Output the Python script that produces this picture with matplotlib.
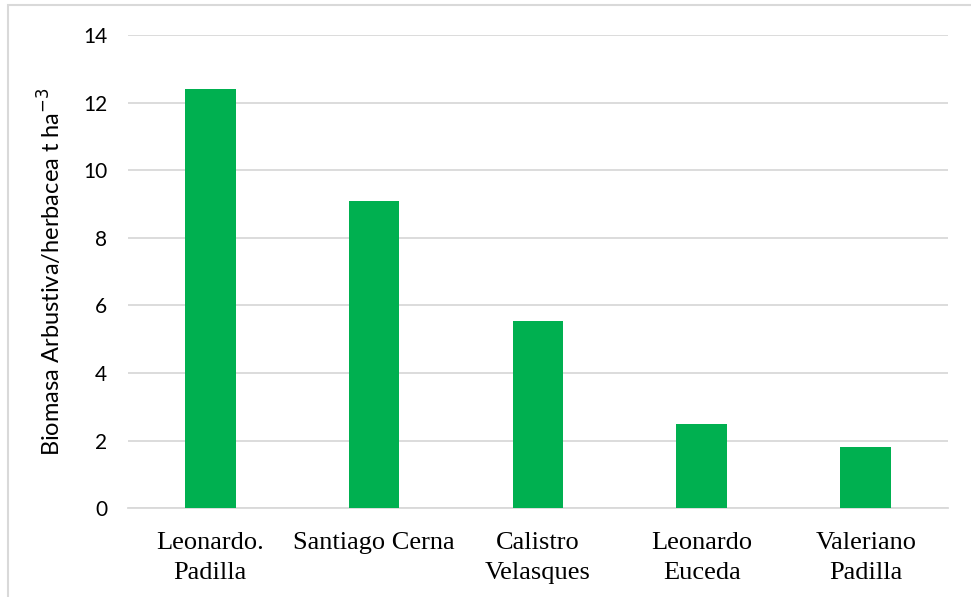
import matplotlib.pyplot as plt
from matplotlib.patches import Rectangle

# Biomasa por productor
productores = ["Leonardo.\nPadilla", "Santiago Cerna", "Calistro\nVelasques",
               "Leonardo\nEuceda", "Valeriano\nPadilla"]
biomasa = [12.4, 9.08, 5.53, 2.48, 1.8]
yticks = [0, 2, 4, 6, 8, 10, 12, 14]

fig = plt.figure(figsize=(9.71, 5.97), dpi=100)
ax = fig.add_axes([0.132, 0.149, 0.844, 0.792])

x = range(len(productores))
ax.bar(x, biomasa, width=0.31, color="#00B050", zorder=3)

ax.set_xlim(-0.5, len(productores) - 0.5)
ax.set_ylim(0, 14)
ax.set_yticks(yticks)
ax.set_yticklabels([str(t) for t in yticks], fontfamily="Lato", fontsize=15)
ax.set_xticks(list(x))
ax.set_xticklabels(productores, fontfamily="Liberation Serif", fontsize=19,
                   linespacing=1.5)
ax.tick_params(length=0, pad=17)
ax.tick_params(axis="y", pad=15)

ax.grid(axis="y", color="#d9d9d9", linewidth=1.3, zorder=0)
for s in ["top", "right", "left"]:
    ax.spines[s].set_visible(False)
ax.spines["bottom"].set_color("#d9d9d9")
ax.spines["bottom"].set_linewidth(1.3)

ax.set_ylabel("Biomasa Arbustiva/herbacea t ha$^{-3}$", fontfamily="Lato",
              fontsize=17, labelpad=13)

# marco del gráfico
fig.patches.append(Rectangle((8 / 971, -0.1), 1.2, 1 - 5 / 597 + 0.1,
                             transform=fig.transFigure, fill=False,
                             edgecolor="#d9d9d9", linewidth=1.5))

fig.savefig("out.png", dpi=100)
